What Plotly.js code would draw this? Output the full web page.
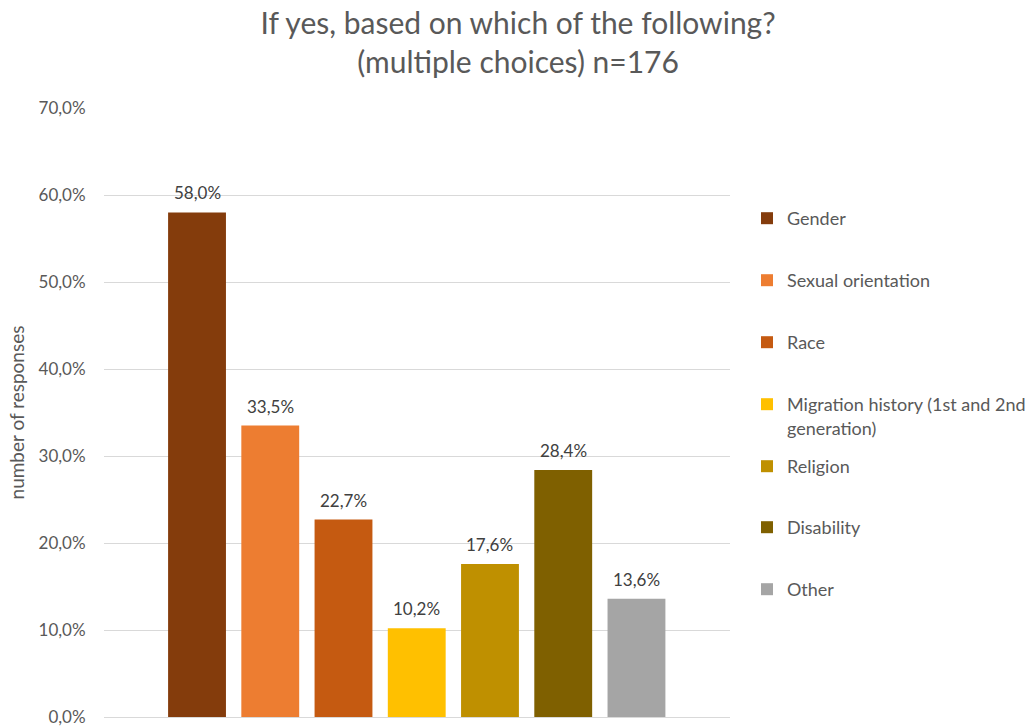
<!DOCTYPE html>
<html>
<head>
<meta charset="utf-8">
<script src="https://cdn.plot.ly/plotly-3.0.1.min.js"></script>
<style>html,body{margin:0;padding:0;background:#fff;}#chart{width:1030px;height:726px;}</style>
</head>
<body>
<div id="chart"></div>
<script>
const categories = ["Gender", "Sexual orientation", "Race", "Migration history (1st and 2nd<br>generation)", "Religion", "Disability", "Other"];
const values = [58.0, 33.5, 22.7, 10.2, 17.6, 28.4, 13.6];
const colors = ["#843C0C", "#ED7D31", "#C55A11", "#FFC000", "#BF9000", "#7F6000", "#A5A5A5"];
const yTicks = [0, 10, 20, 30, 40, 50, 60, 70];
const titleText = "If yes, based on which of the following?<br>(multiple choices) n=176";
const yTitle = "number of responses";

const FONT = "Lato, 'Open Sans', sans-serif";
const legendTop = [214, 276, 338, 400, 462, 523, 585];
const fmt = v => v.toFixed(1).replace(".", ",") + "%";

const traces = categories.map((c, i) => ({
  type: "bar",
  name: c,
  x: [c],
  y: [values[i]],
  marker: {color: colors[i]},
  width: 0.79,
  hoverinfo: "skip",
  legend: i === 0 ? "legend" : "legend" + (i + 1)
}));

const annotations = categories.map((c, i) => ({
  x: c, y: values[i], xref: "x", yref: "y",
  text: fmt(values[i]),
  showarrow: false, yanchor: "bottom", yshift: 7,
  font: {family: FONT, size: 17, color: "#404040"}
}));

const layout = {
  width: 1030, height: 726,
  paper_bgcolor: "#fff", plot_bgcolor: "#fff",
  margin: {l: 104, r: 300, t: 108, b: 9},
  barmode: "overlay",
  separators: ",.",
  showlegend: true,
  title: {
    text: titleText,
    font: {family: FONT, size: 30, color: "#595959"},
    x: 0.503, xanchor: "center", y: 1 - 34 / 726, yanchor: "middle", yref: "container"
  },
  xaxis: {
    type: "category",
    categoryarray: categories,
    range: [-1.27, 7.277],
    showticklabels: false, showgrid: false, zeroline: false, showline: false, ticks: ""
  },
  yaxis: {
    range: [0, 70],
    tickvals: yTicks,
    ticktext: yTicks.map(fmt),
    ticklabeloverflow: "allow",
    showgrid: true, gridcolor: "#D9D9D9", gridwidth: 1,
    zeroline: true, zerolinecolor: "#D9D9D9", zerolinewidth: 1,
    showline: false,
    ticks: "outside", ticklen: 14, tickcolor: "rgba(0,0,0,0)",
    tickfont: {family: FONT, size: 17, color: "#595959"},
    title: {text: yTitle, font: {family: FONT, size: 19, color: "#595959"}, standoff: 8}
  },
  annotations: annotations
};

legendTop.forEach((py, i) => {
  const key = i === 0 ? "legend" : "legend" + (i + 1);
  layout[key] = {
    xref: "container", yref: "container",
    x: 747 / 1030, xanchor: "left",
    y: 1 - (py - 14) / 726, yanchor: "top",
    valign: "top",
    bgcolor: "rgba(0,0,0,0)",
    font: {family: FONT, size: 18, color: "#595959"},
    itemclick: false, itemdoubleclick: false
  };
});

Plotly.newPlot("chart", traces, layout, {displayModeBar: false, staticPlot: true});
</script>
</body>
</html>
